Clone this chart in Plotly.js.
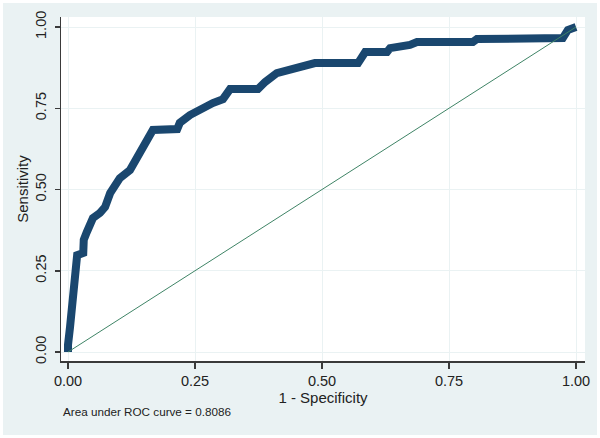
<!DOCTYPE html>
<html>
<head>
<meta charset="utf-8">
<script src="https://cdn.plot.ly/plotly-3.0.1.min.js"></script>
<style>
  html, body { margin: 0; padding: 0; background: #ffffff; }
  #chart { position: absolute; left: 3px; top: 3px; width: 594px; height: 432px; }
</style>
</head>
<body>
<div id="chart"></div>
<script>
// ROC curve points: 1 - specificity and sensitivity
const oneMinusSpecificity = [0, 0, 0.004, 0.010, 0.014, 0.018, 0.030, 0.031, 0.037, 0.049, 0.063, 0.073, 0.083, 0.102, 0.122, 0.132, 0.146, 0.157, 0.167, 0.215, 0.220, 0.240, 0.266, 0.285, 0.305, 0.319, 0.374, 0.388, 0.411, 0.437, 0.457, 0.486, 0.571, 0.585, 0.628, 0.634, 0.673, 0.687, 0.797, 0.805, 0.974, 0.984, 1];
const sensitivity = [0, 0.022, 0.077, 0.160, 0.246, 0.298, 0.305, 0.345, 0.369, 0.412, 0.428, 0.446, 0.489, 0.535, 0.560, 0.585, 0.622, 0.652, 0.683, 0.686, 0.705, 0.729, 0.754, 0.766, 0.778, 0.809, 0.809, 0.831, 0.858, 0.868, 0.877, 0.889, 0.889, 0.923, 0.923, 0.935, 0.945, 0.954, 0.954, 0.963, 0.966, 0.991, 1];
// reference (chance) line
const refX = [0, 1];
const refY = [0, 1];
// ticks
const tickVals = [0, 0.25, 0.5, 0.75, 1];
const tickText = ["0.00", "0.25", "0.50", "0.75", "1.00"];
const xTitle = "1 - Specificity";
const yTitle = "Sensitivity";
const aucNote = "Area under ROC curve = 0.8086";

const font = "Liberation Sans, Arial, sans-serif";

const traces = [
  {
    x: oneMinusSpecificity, y: sensitivity, type: "scatter", mode: "lines",
    line: { color: "#1a476f", width: 8 }, hoverinfo: "skip", cliponaxis: false
  },
  {
    x: refX, y: refY, type: "scatter", mode: "lines",
    line: { color: "#3f8466", width: 1 }, hoverinfo: "skip"
  }
];

const layout = {
  width: 594, height: 432,
  margin: { l: 58, r: 12, t: 14, b: 74 },
  paper_bgcolor: "#eaf2f3",
  plot_bgcolor: "#ffffff",
  showlegend: false,
  font: { family: font, color: "#222222", size: 14 },
  xaxis: {
    range: [-0.0138, 1.0177], tickvals: tickVals, ticktext: tickText,
    showline: true, linecolor: "#3a3a3a", linewidth: 1.5,
    ticks: "outside", ticklen: 6, tickcolor: "#3a3a3a", tickwidth: 1.5,
    showgrid: true, gridcolor: "#eaf2f3", gridwidth: 1, zeroline: false,
    tickfont: { size: 14.5 },
    title: { text: xTitle, font: { size: 15 }, standoff: 0 }
  },
  yaxis: {
    range: [-0.0277, 1.0308], tickvals: tickVals, ticktext: tickText,
    showline: true, linecolor: "#3a3a3a", linewidth: 1.5,
    ticks: "outside", ticklen: 5, tickcolor: "#3a3a3a", tickwidth: 1.5,
    ticklabelstandoff: 3,
    showgrid: true, gridcolor: "#eaf2f3", gridwidth: 1, zeroline: false,
    tickangle: -90, tickfont: { size: 14.5 },
    title: { text: yTitle, font: { size: 15 }, standoff: 0 }
  },
  annotations: [
    { text: aucNote, xref: "paper", yref: "paper", x: 0, y: -0.148,
      xanchor: "left", yanchor: "middle", showarrow: false,
      font: { size: 11.7, color: "#222222" } }
  ]
};

Plotly.newPlot("chart", traces, layout, { displayModeBar: false, staticPlot: true });
</script>
</body>
</html>
